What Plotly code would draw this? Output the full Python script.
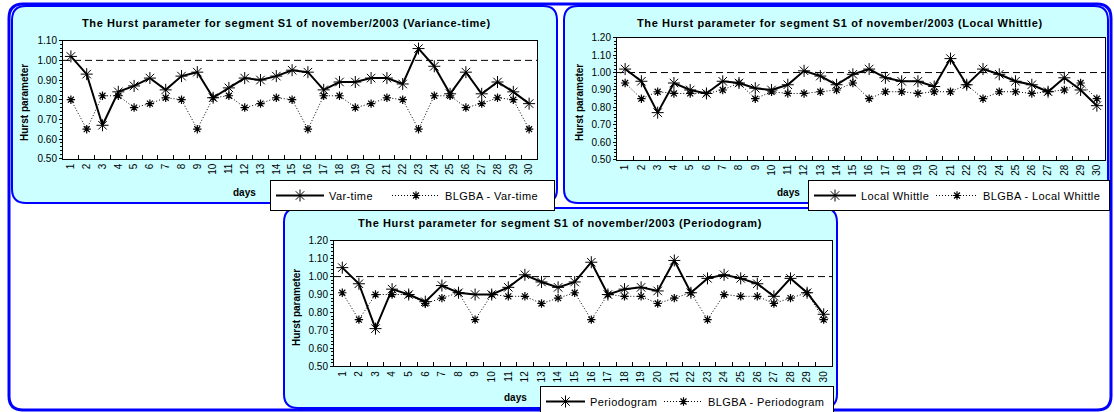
import plotly.graph_objects as go

W, H = 1114, 412

days = [str(d) for d in range(1, 31)]

var_time = [1.02, 0.93, 0.67, 0.84, 0.87, 0.91, 0.85, 0.92, 0.94, 0.81,
            0.86, 0.91, 0.90, 0.92, 0.95, 0.94, 0.85, 0.89, 0.89, 0.91,
            0.91, 0.88, 1.06, 0.97, 0.83, 0.94, 0.83, 0.89, 0.84, 0.78]
blgba_var_time = [0.80, 0.65, 0.82, 0.82, 0.76, 0.78, 0.81, 0.80, 0.65, 0.81,
                  0.82, 0.76, 0.78, 0.81, 0.80, 0.65, 0.82, 0.82, 0.76, 0.78,
                  0.81, 0.80, 0.65, 0.82, 0.82, 0.76, 0.78, 0.81, 0.80, 0.65]

local_whittle = [1.02, 0.95, 0.77, 0.94, 0.90, 0.88, 0.95, 0.94, 0.91, 0.90,
                 0.93, 1.01, 0.98, 0.93, 0.99, 1.02, 0.97, 0.95, 0.95, 0.92,
                 1.08, 0.93, 1.02, 0.99, 0.95, 0.93, 0.89, 0.97, 0.90, 0.81]
blgba_local_whittle = [0.94, 0.85, 0.89, 0.88, 0.88, 0.88, 0.90, 0.94, 0.85, 0.89,
                       0.88, 0.88, 0.89, 0.90, 0.94, 0.85, 0.89, 0.89, 0.88, 0.89,
                       0.89, 0.93, 0.85, 0.89, 0.89, 0.88, 0.89, 0.90, 0.94, 0.85]

periodogram = [1.05, 0.96, 0.71, 0.93, 0.90, 0.86, 0.95, 0.91, 0.90, 0.90,
               0.94, 1.01, 0.97, 0.94, 0.97, 1.08, 0.90, 0.93, 0.94, 0.92,
               1.09, 0.91, 0.99, 1.01, 0.99, 0.96, 0.89, 0.99, 0.91, 0.79]
blgba_periodogram = [0.91, 0.76, 0.90, 0.90, 0.90, 0.85, 0.88, 0.91, 0.76, 0.90,
                     0.89, 0.89, 0.85, 0.88, 0.91, 0.76, 0.90, 0.89, 0.89, 0.85,
                     0.88, 0.91, 0.76, 0.90, 0.89, 0.89, 0.85, 0.88, 0.91, 0.76]

titles = [
    "The Hurst parameter for segment S1 of november/2003 (Variance-time)",
    "The Hurst parameter for segment S1 of november/2003 (Local Whittle)",
    "The Hurst parameter for segment S1 of november/2003 (Periodogram)",
]
series_names = [
    ("Var-time", "BLGBA - Var-time"),
    ("Local Whittle", "BLGBA - Local Whittle"),
    ("Periodogram", "BLGBA - Periodogram"),
]
series_values = [
    (var_time, blgba_var_time),
    (local_whittle, blgba_local_whittle),
    (periodogram, blgba_periodogram),
]
y_ranges = [(0.5, 1.1), (0.5, 1.2), (0.5, 1.2)]

FONT = "Liberation Sans, Arial, sans-serif"
BLUE = "#0000FF"
CYAN = "#CCFFFF"

# layout geometry in pixels (left, top, right, bottom)
panel_boxes = [(12, 6, 557, 203), (564, 6, 1108, 203), (284, 208, 837, 408)]
plot_boxes = [(63, 40.7, 537, 158.7), (617, 37.7, 1105, 159.7), (334, 240.7, 832, 366.3)]
title_pos = [(286, 23), (840, 23), (560, 223)]
ytitle_pos = [(24, 103), (579, 103), (296, 308)]
days_pos = [(244, 192), (788, 192), (515, 397)]
legend_pos = [(270, 180), (808, 180), (540, 386)]
legend_itemwidth = [48, 42, 39]
legend_entry_widths = [(53, 104), (65, 121), (64, 120)]


def px(x):
    return x / W


def py(y):
    return 1 - y / H


def spaced(text, ls):
    return f'<span style="letter-spacing:{ls}px">{text}</span>'


def rrect_path(x0, y0, x1, y1, r):
    rx, ry = r / W, r / H
    X0, X1 = px(x0), px(x1)
    Y0, Y1 = py(y0), py(y1)
    return (f"M {X0+rx},{Y0} L {X1-rx},{Y0} Q {X1},{Y0} {X1},{Y0-ry} "
            f"L {X1},{Y1+ry} Q {X1},{Y1} {X1-rx},{Y1} L {X0+rx},{Y1} "
            f"Q {X0},{Y1} {X0},{Y1+ry} L {X0},{Y0-ry} Q {X0},{Y0} {X0+rx},{Y0} Z")


fig = go.Figure()
shapes = []
annotations = []

# outer frame
shapes.append(dict(type="path", xref="paper", yref="paper",
                   path=rrect_path(9, 4, 1111, 410, 14),
                   line=dict(color=BLUE, width=3), fillcolor="white", layer="below"))

for i in range(3):
    sfx = "" if i == 0 else str(i + 1)
    xa, ya = "x" + sfx, "y" + sfx
    leg = "legend" + sfx
    solid, dotted = series_values[i]
    n1, n2 = series_names[i]
    lw1, lw2 = legend_entry_widths[i]

    fig.add_trace(go.Scatter(
        x=days, y=solid, name=spaced(n1, 0.4), mode="lines+markers",
        xaxis=xa, yaxis=ya, legend=leg, legendwidth=lw1,
        line=dict(color="black", width=2),
        marker=dict(symbol="asterisk-open", size=10, line=dict(color="black", width=1)),
    ))
    fig.add_trace(go.Scatter(
        x=days, y=dotted, name=spaced(n2, 0.4), mode="lines+markers",
        xaxis=xa, yaxis=ya, legend=leg, legendwidth=lw2,
        line=dict(color="black", width=1, dash="1px,2px"),
        marker=dict(symbol="asterisk-open", size=7, line=dict(color="black", width=1.2)),
    ))

    l, t, r, b = plot_boxes[i]
    fig.update_layout({
        "xaxis" + sfx: dict(
            domain=[px(l), px(r)], anchor=ya, type="category",
            categoryorder="array", categoryarray=days,
            range=[-0.5, 29.5], tickson="boundaries", ticks="inside", ticklen=4,
            tickcolor="black", tickangle=-90,
            tickfont=dict(family=FONT, size=10, color="black"),
            showline=True, linecolor="black", linewidth=1, mirror=True,
            showgrid=False, zeroline=False, fixedrange=True,
        ),
        "yaxis" + sfx: dict(
            domain=[py(b), py(t)], anchor=xa, range=list(y_ranges[i]),
            dtick=0.1, tick0=0.5, tickformat=".2f", ticks="outside", ticklen=3,
            tickcolor="black",
            minor=dict(dtick=0.02, ticks="outside", ticklen=2, tickcolor="black"),
            tickfont=dict(family=FONT, size=10, color="black"),
            showline=True, linecolor="black", linewidth=1, mirror=True,
            showgrid=False, zeroline=False, fixedrange=True,
        ),
        leg: dict(
            x=px(legend_pos[i][0]), y=py(legend_pos[i][1]), xanchor="left", yanchor="top",
            orientation="h", bgcolor="white", bordercolor="black", borderwidth=1,
            font=dict(family=FONT, size=11, color="black"),
            itemwidth=legend_itemwidth[i],
        ),
    })

    # panel background
    pl, pt, pr, pb = panel_boxes[i]
    shapes.append(dict(type="path", xref="paper", yref="paper",
                       path=rrect_path(pl, pt, pr, pb, 14),
                       line=dict(color=BLUE, width=2), fillcolor=CYAN, layer="below"))
    # white plot area
    shapes.append(dict(type="rect", xref=xa + " domain", yref=ya + " domain",
                       x0=0, x1=1, y0=0, y1=1, fillcolor="white",
                       line=dict(width=0), layer="below"))
    # reference line at H = 1
    shapes.append(dict(type="line", xref=xa + " domain", yref=ya,
                       x0=0, x1=1, y0=1.0, y1=1.0,
                       line=dict(color="black", width=1, dash="7px,4px")))

    annotations.append(dict(text="<b>" + spaced(titles[i], 0.6) + "</b>",
                            xref="paper", yref="paper",
                            x=px(title_pos[i][0]), y=py(title_pos[i][1]),
                            xanchor="center", yanchor="middle", showarrow=False,
                            font=dict(family=FONT, size=11, color="black")))
    annotations.append(dict(text="<b>Hurst parameter</b>", xref="paper", yref="paper",
                            x=px(ytitle_pos[i][0]), y=py(ytitle_pos[i][1]),
                            xanchor="center", yanchor="middle", showarrow=False,
                            textangle=-90,
                            font=dict(family=FONT, size=10, color="black")))
    annotations.append(dict(text="<b>days</b>", xref="paper", yref="paper",
                            x=px(days_pos[i][0]), y=py(days_pos[i][1]),
                            xanchor="center", yanchor="middle", showarrow=False,
                            font=dict(family=FONT, size=10, color="black")))

fig.update_layout(
    width=W, height=H, autosize=False,
    margin=dict(l=0, r=0, t=0, b=0, pad=0, autoexpand=False),
    paper_bgcolor="white", plot_bgcolor="white",
    shapes=shapes, annotations=annotations,
    font=dict(family=FONT, color="black"),
)

fig.write_html("out.html",
               config={"displayModeBar": False},
               post_script="document.body.style.margin='0';document.body.style.padding='0';")
